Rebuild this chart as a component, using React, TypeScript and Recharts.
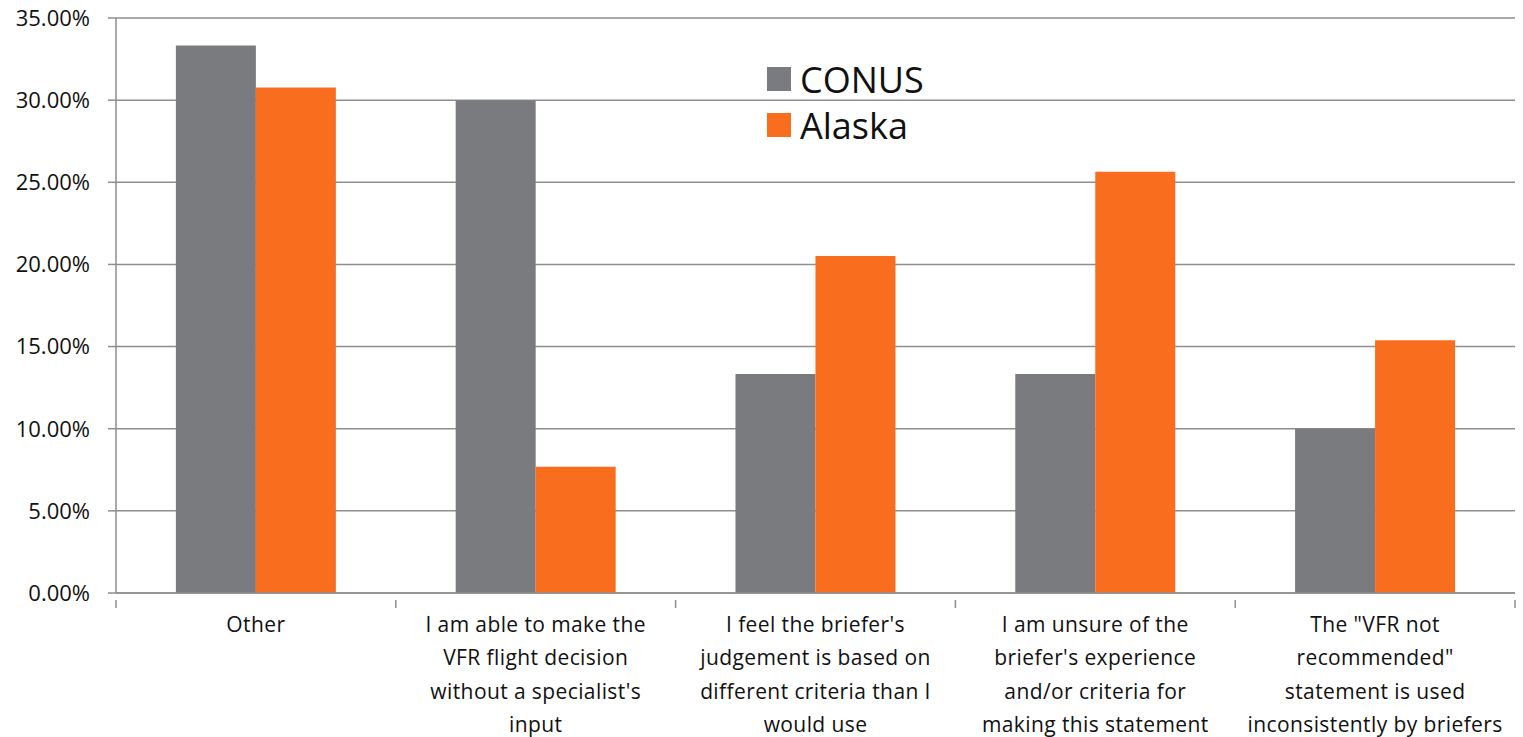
import React from "react";
import { BarChart, Bar, XAxis, YAxis, CartesianGrid } from "recharts";

const categories = [
  "Other",
  "I am able to make the VFR flight decision without a specialist's input",
  "I feel the briefer's judgement is based on different criteria than I would use",
  "I am unsure of the briefer's experience and/or criteria for making this statement",
  "The \"VFR not recommended\" statement is used inconsistently by briefers",
];
const categoryLines = [
  ["Other"],
  ["I am able to make the", "VFR flight decision", "without a specialist's", "input"],
  ["I feel the briefer's", "judgement is based on", "different criteria than I", "would use"],
  ["I am unsure of the", "briefer's experience", "and/or criteria for", "making this statement"],
  ["The \"VFR not", "recommended\"", "statement is used", "inconsistently by briefers"],
];
const conus = [33.33, 30.0, 13.33, 13.33, 10.0];
const alaska = [30.77, 7.69, 20.51, 25.64, 15.38];
const yTicks = [0, 5, 10, 15, 20, 25, 30, 35];
const seriesNames = ["CONUS", "Alaska"];
const colors = ["#7a7b7f", "#f96d1e"];

const data = categories.map((c, i) => ({
  name: c,
  CONUS: conus[i],
  Alaska: alaska[i],
}));

const FONT = "'Open Sans', sans-serif";
const AXIS = "#8e8e8e";

const XTick = (props: any) => {
  const { x, y, payload, index, width, visibleTicksCount } = props;
  const band = width / visibleTicksCount;
  const lines = categoryLines[index] || [String(payload.value)];
  const left = x - band / 2;
  const right = x + band / 2;
  return (
    <g>
      <line x1={left} y1={y - 1} x2={left} y2={y + 7} stroke={AXIS} strokeWidth={1.5} />
      {index === visibleTicksCount - 1 && (
        <line x1={right} y1={y - 1} x2={right} y2={y + 7} stroke={AXIS} strokeWidth={1.5} />
      )}
      <text
        x={x}
        y={y + 31}
        textAnchor="middle"
        fontFamily={FONT}
        fontSize={21}
        letterSpacing={0.4}
        fill="#111"
      >
        {lines.map((l: string, i: number) => (
          <tspan key={i} x={x} dy={i === 0 ? 0 : 33.3}>
            {l}
          </tspan>
        ))}
      </text>
    </g>
  );
};

export default function App() {
  return (
    <div style={{ position: "absolute", left: 0, top: 0, width: 1523, height: 737, background: "#fff" }}>
      <BarChart
        width={1523}
        height={737}
        data={data}
        margin={{ top: 18, right: 8, left: 0, bottom: 0 }}
        barCategoryGap="21.4%"
        barGap={0}
      >
        <CartesianGrid vertical={false} stroke={AXIS} strokeWidth={1.5} />
        <XAxis
          dataKey="name"
          height={144}
          interval={0}
          axisLine={{ stroke: AXIS, strokeWidth: 1.5 }}
          tickLine={false}
          tick={<XTick />}
        />
        <YAxis
          width={116}
          domain={[0, 35]}
          ticks={yTicks}
          interval={0}
          tickFormatter={(v: number) => `${v.toFixed(2)}%`}
          axisLine={{ stroke: AXIS, strokeWidth: 1.5 }}
          tickLine={{ stroke: AXIS, strokeWidth: 1.5 }}
          tickSize={8}
          tickMargin={18}
          tick={{ fontFamily: FONT, fontSize: 22, fill: "#111" }}
        />
        <Bar dataKey="CONUS" fill={colors[0]} isAnimationActive={false} />
        <Bar dataKey="Alaska" fill={colors[1]} isAnimationActive={false} />
      </BarChart>
      <div style={{ position: "absolute", left: 767, top: 56, fontFamily: FONT }}>
        {seriesNames.map((n, i) => (
          <div
            key={n}
            style={{ display: "flex", alignItems: "center", height: 46, fontSize: 36, color: "#111" }}
          >
            <div style={{ width: 24, height: 24, background: colors[i], marginRight: 9 }} />
            <span>{n}</span>
          </div>
        ))}
      </div>
    </div>
  );
}
